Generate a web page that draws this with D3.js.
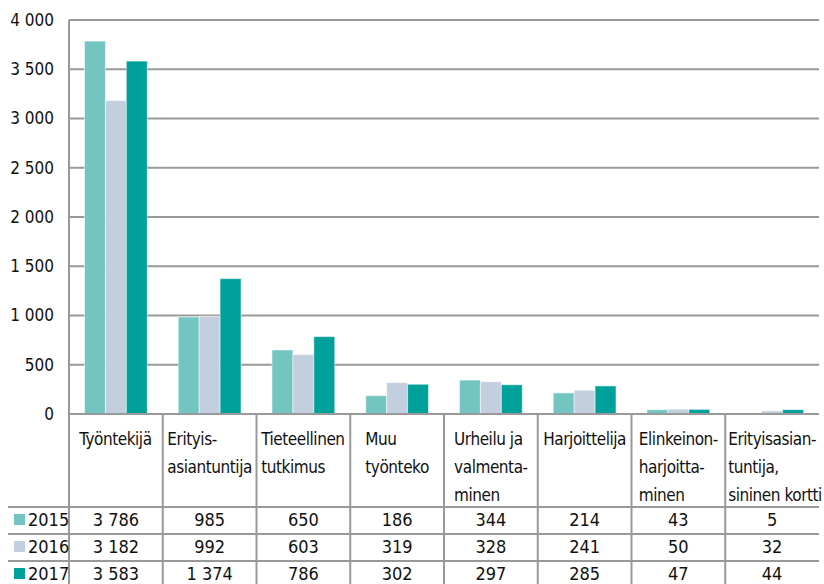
<!DOCTYPE html>
<html>
<head>
<meta charset="utf-8">
<script src="https://cdn.jsdelivr.net/npm/d3@7"></script>
<style>
  body { margin: 0; background: #fff; }
  svg text { font-family: "Liberation Sans Narrow", "DejaVu Sans Condensed", "Roboto", sans-serif; fill: #111; }
</style>
</head>
<body>
<div class="chart"></div>
<script>
// categories (lines as they are broken in the table header)
const categories = [
	["Työntekijä"],
	["Erityis-", "asiantuntija"],
	["Tieteellinen", "tutkimus"],
	["Muu", "työnteko"],
	["Urheilu ja", "valmenta-", "minen"],
	["Harjoittelija"],
	["Elinkeinon-", "harjoitta-", "minen"],
	["Erityisasian-", "tuntija,", "sininen kortti"]
];
const years = ["2015", "2016", "2017"];
const values2015 = [3786, 985, 650, 186, 344, 214, 43, 5];
const values2016 = [3182, 992, 603, 319, 328, 241, 50, 32];
const values2017 = [3583, 1374, 786, 302, 297, 285, 47, 44];
const yTicks = [0, 500, 1000, 1500, 2000, 2500, 3000, 3500, 4000];
const colors = ["#72c5c1", "#c3cfdf", "#00a19a"];

const series = [values2015, values2016, values2017];

const W = 824, H = 584;
const plotLeft = 69, plotRight = 819, plotTop = 20, zero = 414;
const headerBottom = 507, rowH = 27;
const lineColor = "#999";

const locale = d3.formatLocale({decimal: ",", thousands: " ", grouping: [3], currency: ["", " €"]});
const fmtNum = locale.format(",d");

const svg = d3.select(".chart").append("svg")
	.attr("width", W)
	.attr("height", H);

const x0 = d3.scaleBand()
	.domain(d3.range(categories.length))
	.range([plotLeft, plotRight])
	.padding(0);

const x1 = d3.scaleBand()
	.domain(d3.range(years.length))
	.range([15.5, x0.bandwidth() - 15.5]);

const y = d3.scaleLinear()
	.domain([0, 4000])
	.range([zero, plotTop]);

// grid
svg.append("g")
	.selectAll("line")
	.data(yTicks.filter(d => d > 0))
	.enter().append("line")
	.attr("x1", plotLeft).attr("x2", plotRight)
	.attr("y1", d => y(d)).attr("y2", d => y(d))
	.attr("stroke", lineColor)
	.attr("stroke-width", 2);

// y axis labels
const yAxis = d3.axisLeft(y)
	.tickValues(yTicks)
	.tickSize(0)
	.tickPadding(15)
	.tickFormat(fmtNum);

const gy = svg.append("g")
	.attr("transform", "translate(" + plotLeft + ",0)")
	.call(yAxis);
gy.select(".domain").remove();
gy.selectAll("text")
	.style("font-size", "17px")
	.attr("fill", "#111");

// bars
const groups = svg.append("g")
	.selectAll("g")
	.data(categories)
	.enter().append("g")
	.attr("transform", (d, i) => "translate(" + x0(i) + ",0)");

groups.selectAll("rect")
	.data((d, i) => series.map((s, k) => ({k: k, v: s[i]})))
	.enter().append("rect")
	.attr("x", d => x1(d.k))
	.attr("width", x1.bandwidth())
	.attr("y", d => y(d.v))
	.attr("height", d => zero - y(d.v))
	.attr("fill", d => colors[d.k])
	.attr("stroke", "#fff")
	.attr("stroke-opacity", 0.5)
	.attr("stroke-width", 1);

// table lines
const tbl = svg.append("g");
tbl.append("line")
	.attr("x1", plotLeft).attr("x2", plotRight)
	.attr("y1", zero).attr("y2", zero)
	.attr("stroke", lineColor).attr("stroke-width", 2);

tbl.selectAll(".vline")
	.data(d3.range(categories.length))
	.enter().append("line")
	.attr("class", "vline")
	.attr("x1", i => x0(i))
	.attr("x2", i => x0(i))
	.attr("y1", i => i == 0 ? plotTop : zero)
	.attr("y2", H)
	.attr("stroke", lineColor)
	.attr("stroke-width", 2);

tbl.selectAll(".hline")
	.data(years)
	.enter().append("line")
	.attr("class", "hline")
	.attr("x1", 8).attr("x2", plotRight)
	.attr("y1", (d, i) => headerBottom + i * rowH)
	.attr("y2", (d, i) => headerBottom + i * rowH)
	.attr("stroke", lineColor)
	.attr("stroke-width", 2);

// header labels: lines left aligned, block centred in the column
groups.each(function(lines, i) {
	const g = d3.select(this);
	const t = g.append("text")
		.style("font-size", "17px")
		.style("letter-spacing", "-0.45px");
	t.selectAll("tspan")
		.data(lines)
		.enter().append("tspan")
		.attr("x", 0)
		.attr("y", (d, j) => 445 + j * 28)
		.text(d => d);
	const w = t.node().getBBox().width;
	const off = Math.max(3, (x0.bandwidth() - w) / 2);
	t.attr("transform", "translate(" + off + ",0)");
});

// data rows
years.forEach(function(yr, k) {
	const yy = headerBottom + k * rowH + 19;
	svg.append("rect")
		.attr("x", 14).attr("y", yy - 12)
		.attr("width", 11).attr("height", 11)
		.attr("fill", colors[k]);
	svg.append("text")
		.attr("x", 28).attr("y", yy)
		.style("font-size", "18px")
		.text(yr);
	svg.append("g")
		.selectAll("text")
		.data(series[k])
		.enter().append("text")
		.attr("x", (d, i) => x0(i) + x0.bandwidth() / 2)
		.attr("y", yy)
		.attr("text-anchor", "middle")
		.style("font-size", "18px")
		.text(d => fmtNum(d));
});
</script>
</body>
</html>
